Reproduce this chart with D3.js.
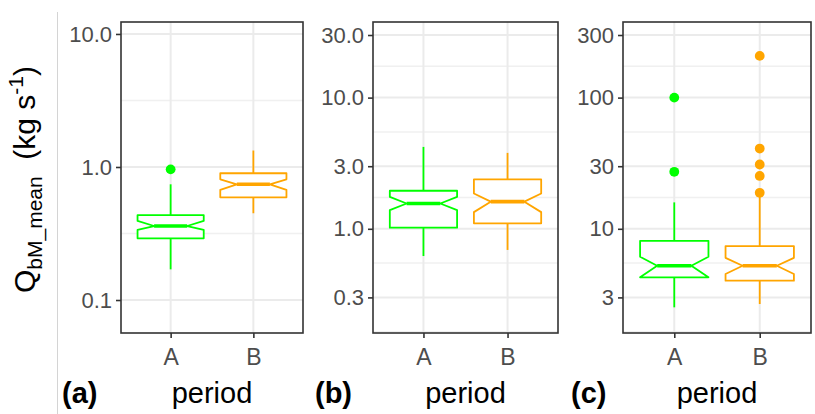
<!DOCTYPE html>
<html><head><meta charset="utf-8">
<script src="https://cdn.jsdelivr.net/npm/d3@7"></script>
<style>html,body{margin:0;padding:0;background:#fff;} svg{display:block;}</style>
</head><body>
<svg id="chart" width="815" height="414"></svg>
<script>
// ---------- data ----------
const categories = ["A", "B"];
const panelLabels = ["(a)", "(b)", "(c)"];
const xTitle = "period";

// panel (a)
const aTicks = [0.1, 1, 10];
const aTickLabels = ["0.1", "1.0", "10.0"];
const aLimits = [0.0565, 12.3];
const aLow  = [0.170, 0.449];
const aQ1   = [0.291, 0.592];
const aNLo  = [0.336, 0.672];
const aMed  = [0.360, 0.741];
const aNHi  = [0.393, 0.808];
const aQ3   = [0.435, 0.897];
const aHigh = [0.741, 1.33];
const aOutA = [0.96];
const aOutB = [];

// panel (b)
const bTicks = [0.3, 1, 3, 10, 30];
const bTickLabels = ["0.3", "1.0", "3.0", "10.0", "30.0"];
const bLimits = [0.1606, 37.7];
const bLow  = [0.62, 0.69];
const bQ1   = [1.02, 1.10];
const bNLo  = [1.39, 1.34];
const bMed  = [1.56, 1.61];
const bNHi  = [1.75, 1.86];
const bQ3   = [1.95, 2.38];
const bHigh = [4.21, 3.79];
const bOutA = [];
const bOutB = [];

// panel (c)
const cTicks = [3, 10, 30, 100, 300];
const cTickLabels = ["3", "10", "30", "100", "300"];
const cLimits = [1.606, 377];
const cLow  = [2.52, 2.67];
const cQ1   = [4.27, 4.02];
const cNLo  = [4.27, 4.52];
const cMed  = [5.23, 5.23];
const cNHi  = [6.12, 6.01];
const cQ3   = [8.1, 7.38];
const cHigh = [15.9, 17.5];
const cOutA = [27.2, 100];
const cOutB = [18.8, 25.3, 30.9, 40.9, 208];

// ---------- layout & style ----------
const colors = ["#00ff00", "#ffa500"];
const panelLeft = [121, 373, 623];
const panelRight = [303, 558, 811];
const panelTop = 22, panelBottom = 333;
const FONT = "'Liberation Sans', Arial, Helvetica, sans-serif";

const panels = [
  {ticks: aTicks, labels: aTickLabels, lim: aLimits, low: aLow, q1: aQ1, nlo: aNLo, med: aMed, nhi: aNHi, q3: aQ3, high: aHigh, out: [aOutA, aOutB]},
  {ticks: bTicks, labels: bTickLabels, lim: bLimits, low: bLow, q1: bQ1, nlo: bNLo, med: bMed, nhi: bNHi, q3: bQ3, high: bHigh, out: [bOutA, bOutB]},
  {ticks: cTicks, labels: cTickLabels, lim: cLimits, low: cLow, q1: cQ1, nlo: cNLo, med: cMed, nhi: cNHi, q3: cQ3, high: cHigh, out: [cOutA, cOutB]}
];

const svg = d3.select("#chart");

// left thin separator line
svg.append("line").attr("x1", 57.5).attr("x2", 57.5).attr("y1", 12).attr("y2", 414)
  .attr("stroke", "#d4d4d4").attr("stroke-width", 1);

// y-axis title
const yt = svg.append("text")
  .attr("transform", `translate(35,${(panelTop + panelBottom) / 2 + 2}) rotate(-90)`)
  .attr("text-anchor", "middle")
  .attr("font-family", FONT).attr("font-size", 30).attr("fill", "#000");
yt.append("tspan").text("Q");
yt.append("tspan").attr("font-size", 21).attr("dy", 7).text("bM_mean");
yt.append("tspan").attr("dy", -7).text("\u00a0\u00a0(kg s");
yt.append("tspan").attr("font-size", 21).attr("dy", -12).text("-1");
yt.append("tspan").attr("dy", 12).text(")");

panels.forEach((p, i) => {
  const L = panelLeft[i], R = panelRight[i];
  const x = d3.scaleLinear().domain([0.4, 2.6]).range([L, R]);
  const y = d3.scaleLog().domain(p.lim).range([panelBottom, panelTop]);
  const unit = x(2) - x(1);
  const hw = unit * 0.4;
  const g = svg.append("g");

  // minor gridlines (midpoints in log space)
  const lt = p.ticks.map(Math.log10);
  const ext = [lt[0] - (lt[1] - lt[0]), ...lt, lt[lt.length - 1] + (lt[lt.length - 1] - lt[lt.length - 2])];
  const minors = [];
  for (let k = 0; k < ext.length - 1; k++) minors.push(Math.pow(10, (ext[k] + ext[k + 1]) / 2));
  g.selectAll(".minor").data(minors.filter(v => v > p.lim[0] && v < p.lim[1])).enter()
    .append("line").attr("x1", L).attr("x2", R)
    .attr("y1", d => y(d)).attr("y2", d => y(d))
    .attr("stroke", "#f0f0f0").attr("stroke-width", 1.5);
  // major gridlines
  g.selectAll(".major").data(p.ticks).enter()
    .append("line").attr("x1", L).attr("x2", R)
    .attr("y1", d => y(d)).attr("y2", d => y(d))
    .attr("stroke", "#ebebeb").attr("stroke-width", 2);
  g.selectAll(".vmajor").data([1, 2]).enter()
    .append("line").attr("y1", panelTop).attr("y2", panelBottom)
    .attr("x1", d => x(d)).attr("x2", d => x(d))
    .attr("stroke", "#ebebeb").attr("stroke-width", 2);

  // boxes
  categories.forEach((cat, j) => {
    const cx = x(j + 1), col = colors[j], nx = hw * 0.5;
    g.append("line").attr("x1", cx).attr("x2", cx).attr("y1", y(p.q3[j])).attr("y2", y(p.high[j]))
      .attr("stroke", col).attr("stroke-width", 1.8);
    g.append("line").attr("x1", cx).attr("x2", cx).attr("y1", y(p.q1[j])).attr("y2", y(p.low[j]))
      .attr("stroke", col).attr("stroke-width", 1.8);
    const pts = [
      [cx - hw, y(p.q3[j])], [cx + hw, y(p.q3[j])], [cx + hw, y(p.nhi[j])], [cx + nx, y(p.med[j])],
      [cx + hw, y(p.nlo[j])], [cx + hw, y(p.q1[j])], [cx - hw, y(p.q1[j])], [cx - hw, y(p.nlo[j])],
      [cx - nx, y(p.med[j])], [cx - hw, y(p.nhi[j])]
    ];
    g.append("path").attr("d", d3.line()(pts) + "Z")
      .attr("fill", "#fff").attr("stroke", col).attr("stroke-width", 1.8).attr("stroke-linejoin", "round");
    g.append("line").attr("x1", cx - nx).attr("x2", cx + nx).attr("y1", y(p.med[j])).attr("y2", y(p.med[j]))
      .attr("stroke", col).attr("stroke-width", 3.6);
    g.selectAll(null).data(p.out[j]).enter().append("circle")
      .attr("cx", cx).attr("cy", d => y(d)).attr("r", 4.9).attr("fill", col);
  });

  // panel border
  g.append("rect").attr("x", L).attr("y", panelTop).attr("width", R - L).attr("height", panelBottom - panelTop)
    .attr("fill", "none").attr("stroke", "#333333").attr("stroke-width", 1.6);

  // y axis
  const ya = svg.append("g").attr("transform", `translate(${L},0)`)
    .call(d3.axisLeft(y).tickValues(p.ticks).tickFormat((d, k) => p.labels[k]).tickSize(5).tickPadding(4));
  ya.select(".domain").remove();
  ya.selectAll(".tick line").attr("stroke", "#333333").attr("stroke-width", 1.6);
  ya.selectAll(".tick text").attr("fill", "#4d4d4d").attr("font-size", 22).attr("font-family", FONT);

  // x axis
  const xa = svg.append("g").attr("transform", `translate(0,${panelBottom})`)
    .call(d3.axisBottom(x).tickValues([1, 2]).tickFormat((d) => categories[d - 1]).tickSize(5).tickPadding(11));
  xa.select(".domain").remove();
  xa.selectAll(".tick line").attr("stroke", "#333333").attr("stroke-width", 1.6);
  xa.selectAll(".tick text").attr("fill", "#4d4d4d").attr("font-size", 23).attr("font-family", FONT);

  // x title
  svg.append("text").attr("x", (L + R) / 2).attr("y", 403).attr("text-anchor", "middle")
    .attr("font-family", FONT).attr("font-size", 29).attr("fill", "#000").text(xTitle);
});

// panel labels
const labelX = [62, 315, 571];
panelLabels.forEach((t, i) => {
  svg.append("text").attr("x", labelX[i]).attr("y", 403)
    .attr("font-family", FONT).attr("font-size", 29).attr("font-weight", "bold").attr("fill", "#000").text(t);
});
</script>
</body></html>
